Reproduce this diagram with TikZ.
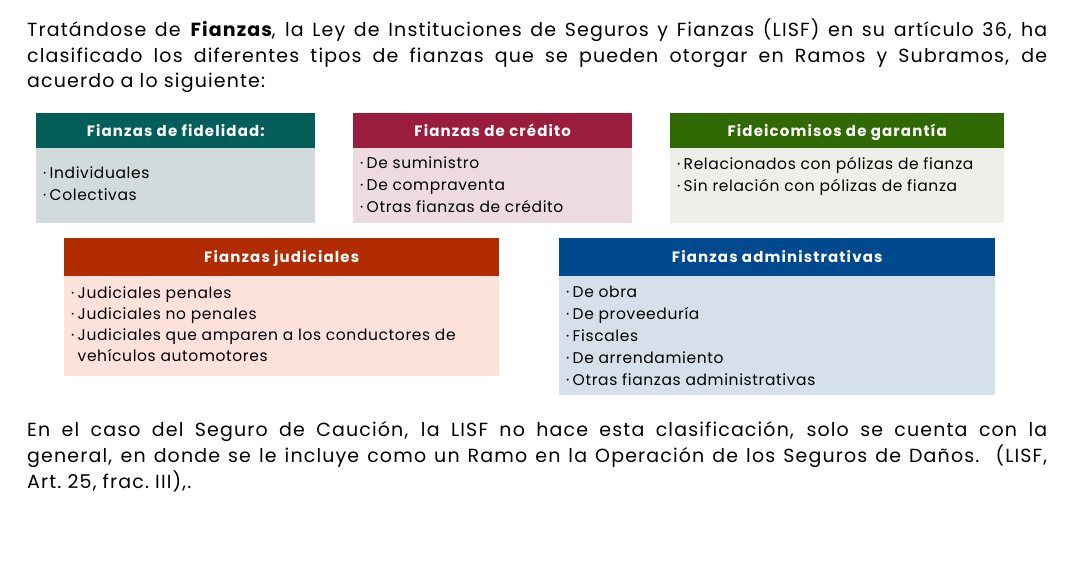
\documentclass[tikz,border=0pt]{standalone}
\usepackage{fontspec}
\setmainfont{Poppins}
\newfontfamily\parafont{Poppins}[LetterSpace=6]
\newfontfamily\itemfont{Poppins}[LetterSpace=4]
\newfontfamily\hdrfont{Poppins}[LetterSpace=7.5]
\definecolor{hTeal}{HTML}{035E5A}
\definecolor{bTeal}{HTML}{D1DBDB}
\definecolor{hWine}{HTML}{9B1D3E}
\definecolor{bWine}{HTML}{EDDBDF}
\definecolor{hGreen}{HTML}{2F6A00}
\definecolor{bGreen}{HTML}{EDF0E8}
\definecolor{hRed}{HTML}{B02B00}
\definecolor{bRed}{HTML}{FDE2DC}
\definecolor{hBlue}{HTML}{00498E}
\definecolor{bBlue}{HTML}{D5E0EB}
\newcommand{\itm}{\makebox[6.5pt][l]{·}}
\begin{document}
\begin{tikzpicture}[x=1pt,y=-1pt,
  hdr/.style={anchor=north west, inner sep=0pt, minimum height=35pt, text=white,
    text height=12.5pt, text depth=1.5pt,
    font=\hdrfont\fontsize{15}{16}\selectfont\bfseries},
  bodybox/.style={anchor=north west, inner sep=0pt},
  items/.style={anchor=north west, align=left, inner sep=0pt,
    font=\itemfont\fontsize{15.5}{22}\selectfont},
  para/.style={anchor=north west, inner sep=0pt, text width=1020pt, align=justify,
    font=\parafont\fontsize{19}{25.5}\selectfont}]
\useasboundingbox (0,0) rectangle (1075,570);
\fill[white] (0,0) rectangle (1075,570);

\node[para] (p1) at (27,19) {Tratándose de \textbf{Fianzas}, la Ley de Instituciones de Seguros y Fianzas (LISF) en su artículo 36, ha\linebreak clasificado los diferentes tipos de fianzas que se pueden otorgar en Ramos y Subramos, de\linebreak acuerdo a lo siguiente:};

% Fidelidad
\node[hdr, fill=hTeal, minimum width=279pt] (h1) at (36,113) {Fianzas de fidelidad:};
\node[bodybox, fill=bTeal, minimum width=279pt, minimum height=75pt] (b1) at (36,148) {};
\node[items] (t1) at (43,167) {\itm Individuales\\ \itm Colectivas};

% Credito
\node[hdr, fill=hWine, minimum width=279pt] (h2) at (353,113) {Fianzas de crédito};
\node[bodybox, fill=bWine, minimum width=279pt, minimum height=75pt] (b2) at (353,148) {};
\node[items] (t2) at (360,157) {\itm De suministro\\ \itm De compraventa\\ \itm Otras fianzas de crédito};

% Fideicomisos
\node[hdr, fill=hGreen, minimum width=334pt] (h3) at (670,113) {Fideicomisos de garantía};
\node[bodybox, fill=bGreen, minimum width=334pt, minimum height=75pt] (b3) at (670,148) {};
\node[items] (t3) at (677,157) {\itm Relacionados con pólizas de fianza\\ \itm Sin relación con pólizas de fianza};

% Judiciales
\node[hdr, fill=hRed, minimum width=435pt, minimum height=38pt] (h4) at (64,238) {Fianzas judiciales};
\node[bodybox, fill=bRed, minimum width=435pt, minimum height=100pt] (b4) at (64,276) {};
\node[items, font=\itemfont\fontsize{15.5}{21.2}\selectfont] (t4) at (71,286) {\itm Judiciales penales\\ \itm Judiciales no penales\\ \itm Judiciales que amparen a los conductores de\\ \hspace*{6.5pt}vehículos automotores};

% Administrativas
\node[hdr, fill=hBlue, minimum width=436pt, minimum height=38pt] (h5) at (559,238) {Fianzas administrativas};
\node[bodybox, fill=bBlue, minimum width=436pt, minimum height=119pt] (b5) at (559,276) {};
\node[items] (t5) at (566,286) {\itm De obra\\ \itm De proveeduría\\ \itm Fiscales\\ \itm De arrendamiento\\ \itm Otras fianzas administrativas};

\node[para, font=\parafont\fontsize{19}{26}\selectfont] (p2) at (27,421) {En el caso del Seguro de Caución, la LISF no hace esta clasificación, solo se cuenta con la\linebreak general, en donde se le incluye como un Ramo en la Operación de los Seguros de Daños.~~(LISF,\linebreak Art.~25, frac.~III),.};
\end{tikzpicture}
\end{document}
